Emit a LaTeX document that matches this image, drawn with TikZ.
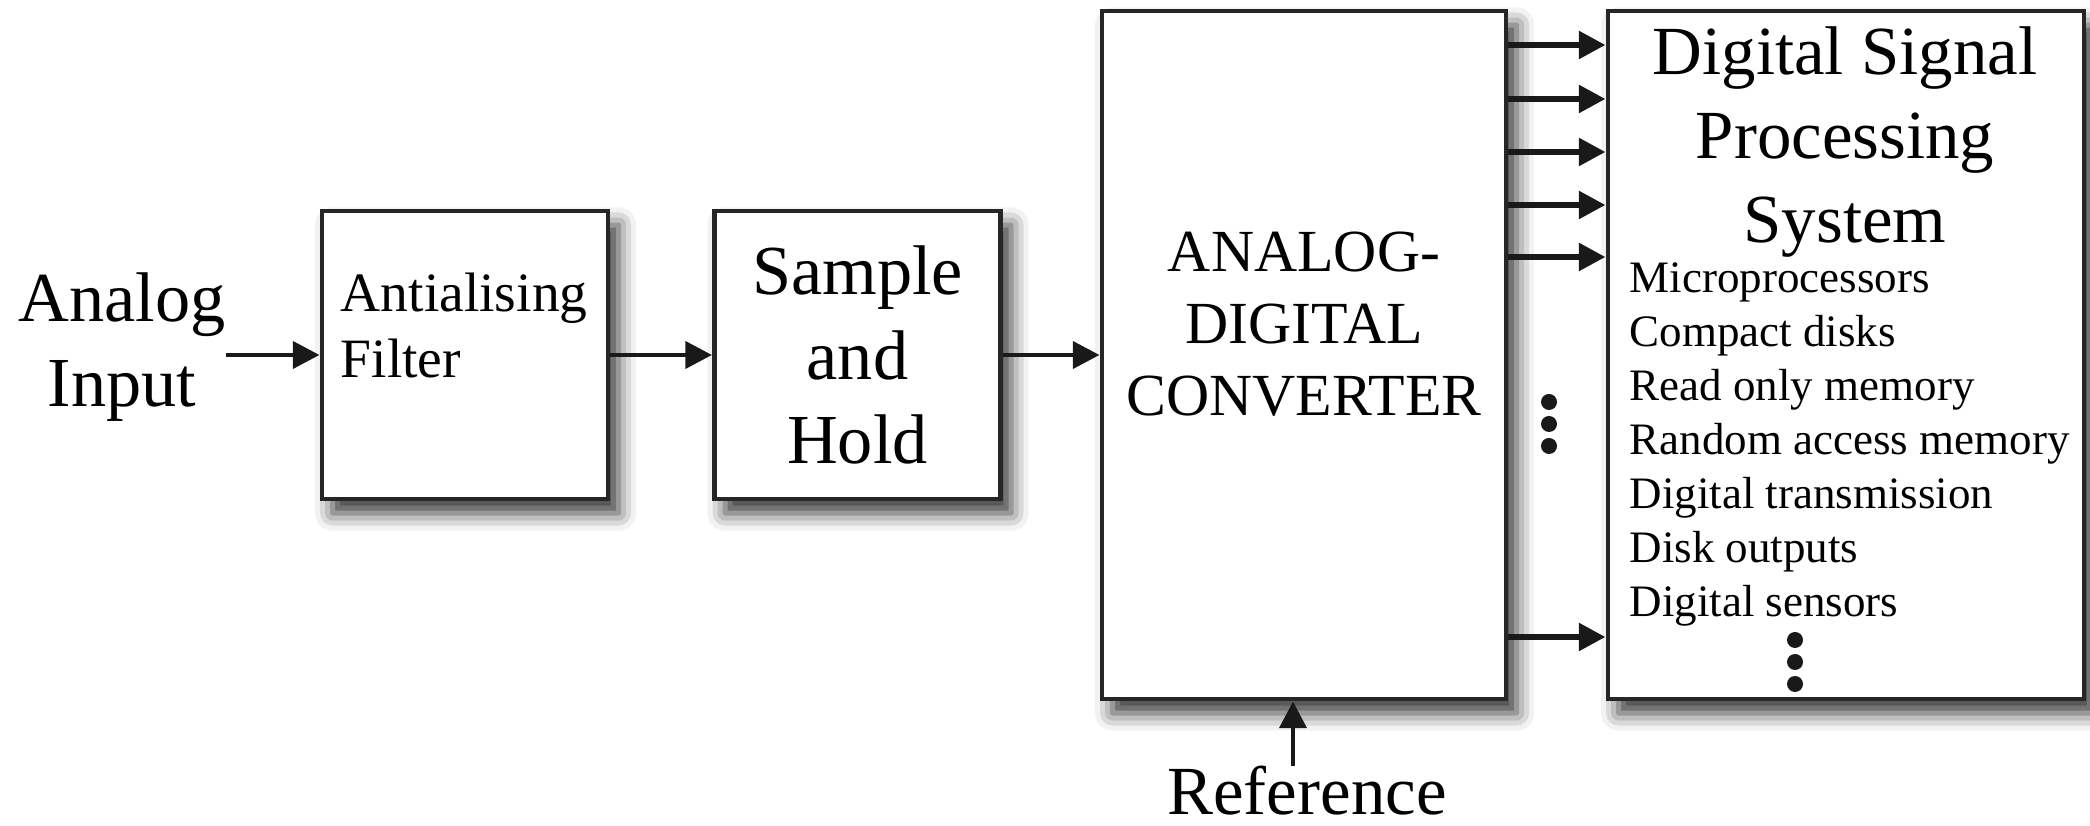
\documentclass[tikz,border=0pt]{standalone}
\usepackage{fontspec}
\setmainfont{Liberation Serif}
\usepackage{tikz}
\usetikzlibrary{arrows.meta,shadows.blur}

\begin{document}
\begin{tikzpicture}[
    blockbox/.style={draw=black!85, line width=1.4pt, fill=white,
        blur shadow={shadow xshift=3pt, shadow yshift=-4pt,
            shadow blur radius=5pt, shadow opacity=80}},
    flow/.style={-{Triangle[length=7.6pt,width=7.6pt]}, line width=1.4pt, black!90},
    bus/.style={flow, line width=1.8pt},
    bigtext/.style={inner sep=0pt, align=center, font=\fontsize{20}{24}\selectfont},
    midtext/.style={inner sep=0pt, align=left, font=\fontsize{15.8}{19}\selectfont},
    adctext/.style={inner sep=0pt, align=center, font=\fontsize{17}{20.5}\selectfont},
    listtext/.style={inner sep=0pt, align=left, font=\fontsize{12.8}{15.4}\selectfont}
  ]
    \useasboundingbox (0,0) rectangle (20.90,8.26);

    % blocks
    \node[blockbox, minimum width=2.86cm, minimum height=2.88cm] (af) at (4.65,4.71) {};
    \node[blockbox, bigtext, minimum width=2.86cm, minimum height=2.88cm] (sh) at (8.575,4.71)
        {Sample\\and\\Hold};
    \node[blockbox, minimum width=4.04cm, minimum height=6.88cm] (adc) at (13.04,4.71) {};
    \node[blockbox, minimum width=4.76cm, minimum height=6.88cm] (dsp) at (18.46,4.71) {};

    % texts
    \node[bigtext] (ain) at (1.22,4.79) {Analog\\Input};
    \node[midtext, anchor=west] (aftext) at (3.40,5.005) {Antialising\\Filter};
    \node[adctext] (adctext) at (13.04,5.02) {ANALOG-\\DIGITAL\\CONVERTER};
    \node[bigtext, font=\fontsize{19.6}{23.9}\selectfont] (dsptitle) at (18.45,6.84)
        {Digital Signal\\Processing\\System};
    \node[listtext, anchor=west] (dsplist) at (16.29,3.815)
        {Microprocessors\\Compact disks\\Read only memory\\Random access memory\\
         Digital transmission\\Disk outputs\\Digital sensors};
    \node[bigtext, font=\fontsize{19.6}{23.5}\selectfont, anchor=base] (ref) at (13.07,0.11) {Reference};

    % connections
    \draw[flow] (ain.east |- af.west) -- (af.west);
    \draw[flow] (af.east) -- (sh.west);
    \draw[flow] (sh.east) -- (adc.west);
    \foreach \y in {7.81,7.27,6.74,6.21,5.69,1.89}
        \draw[bus] (adc.east |- 0,\y) -- (dsp.west |- 0,\y);
    \draw[flow] ([xshift=-0.14cm]ref.north) -- ([xshift=-0.14cm]ref.north |- adc.south);

    % dots
    \foreach \y in {4.24,4.02,3.80}
        \fill[black!90] (15.49,\y) circle (0.08);
    \foreach \y in {1.86,1.64,1.42}
        \fill[black!90] (17.95,\y) circle (0.08);
\end{tikzpicture}
\end{document}
